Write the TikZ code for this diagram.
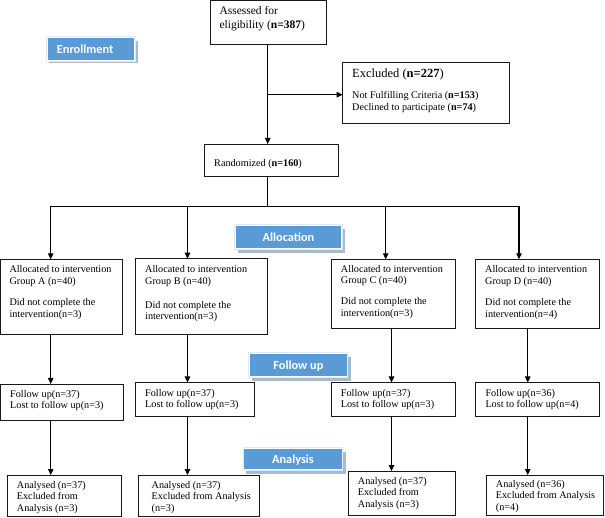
\documentclass[tikz,border=0pt]{standalone}
\usepackage{fontspec}
\setmainfont{Liberation Serif}
\newfontfamily\badgefont{Carlito}
\usetikzlibrary{arrows.meta,calc}
\definecolor{badgeblue}{HTML}{5B9BD5}
\definecolor{badgeshadow}{HTML}{A9BCCF}
\definecolor{badgeframe}{HTML}{E4E9EF}
\newcommand{\tl}[1]{\begin{tabular}[t]{@{}l@{}}#1\end{tabular}}
\newcommand{\mybox}[5]{\node[box, minimum width=#4pt, minimum height=#5pt, anchor=north west] (#1) at (#2,#3) {};}
\newcommand{\mybadge}[7]{%
  \fill[badgeshadow] (#2+1.5,#3+3) rectangle (#6,#7);
  \draw[badgeframe, line width=1pt, fill=white] (#2-1.2,#3-1.2) rectangle (#4+1.2,#5+1.2);
  \node[badge, minimum width=#4pt-#2pt, minimum height=#5pt-#3pt, anchor=north west] (#1) at (#2,#3) {};}
\begin{document}
\begin{tikzpicture}[x=1pt,y=-1pt,
  box/.style={draw=black!90, line width=0.95pt, fill=white, inner sep=0pt, outer sep=0pt},
  txt/.style={anchor=base west, inner sep=0pt, font=\fontsize{10.2}{11.5}\selectfont},
  conn/.style={line width=1.1pt, draw=black},
  arr/.style={conn, -{Triangle[length=6pt,width=5.5pt]}},
  badge/.style={fill=badgeblue, draw=none, inner sep=0pt, outer sep=0pt},
  badgetxt/.style={inner sep=0pt, text=white, font=\badgefont\bfseries\fontsize{12.3}{14}\selectfont},
]
\useasboundingbox[fill=white] (0,0) rectangle (605,518);

% badges
\mybadge{enroll}{47.7}{37.7}{134.3}{60.3}{138}{63.5}
\mybadge{alloc}{236}{226}{341}{248.3}{345}{252.7}
\mybadge{follow}{250}{354}{346.7}{376.5}{350.5}{381}
\mybadge{anal}{244.3}{449}{341.7}{469.3}{345.5}{473.5}
\node[badgetxt, anchor=base west] (tenroll) at (56.7,53.5) {Enrollment};
\node[badgetxt, anchor=base] (talloc) at (288.5,241.2) {Allocation};
\node[badgetxt, anchor=base] (tfollow) at (298.4,369.3) {Follow up};
\node[badgetxt, anchor=base] (tanal) at (293,463.2) {Analysis};

% boxes
\mybox{assess}{210}{0.7}{116}{43.3}
\mybox{excl}{342.7}{62.3}{166.6}{61}
\mybox{rand}{204.7}{144}{133.3}{32}
\mybox{aA}{0.7}{259.3}{122}{75}
\mybox{aB}{135.3}{258.7}{132.4}{75.3}
\mybox{aC}{331.7}{259.3}{123.3}{68.7}
\mybox{aD}{475}{259.3}{124.3}{68.7}
\mybox{fA}{0.7}{384}{122.6}{36}
\mybox{fB}{135.3}{382.5}{119}{34.2}
\mybox{fC}{331.7}{382.5}{123.3}{34.2}
\mybox{fD}{475}{382.5}{124.3}{34.2}
\mybox{nA}{7.3}{475}{114.4}{41.7}
\mybox{nB}{138.7}{475}{120.6}{41.5}
\mybox{nC}{348.3}{471}{106.7}{44.7}
\mybox{nD}{486}{475}{117.3}{40.7}

% texts
\node[txt, font=\fontsize{11.5}{13.6}\selectfont] (tassess) at (219.3,14.7) {\tl{Assessed for\\eligibility (\textbf{n=387})}};
\node[txt, font=\fontsize{12.5}{14}\selectfont] (texcl) at (352,77.7) {Excluded (\textbf{n=227})};
\node[txt, font=\fontsize{10.2}{11.6}\selectfont] (texcl2) at (352,98.7) {\tl{Not Fulfilling Criteria (\textbf{n=153})\\Declined to participate (\textbf{n=74})}};
\node[txt] (trand) at (214,166.7) {Randomized (\textbf{n=160})};
\node[txt] (taA) at (9.3,272.7) {\tl{Allocated to intervention\\Group A (n=40)\\[10.3pt]Did not complete the\\intervention(n=3)}};
\node[txt] (taB) at (145,272.7) {\tl{Allocated to intervention\\Group B (n=40)\\[12.5pt]Did not complete the\\intervention(n=3)}};
\node[txt] (taC) at (340.7,272.3) {\tl{Allocated to intervention\\Group C (n=40)\\[9.5pt]Did not complete the\\intervention(n=3)}};
\node[txt] (taD) at (485,272.7) {\tl{Allocated to intervention\\Group D (n=40)\\[10.3pt]Did not complete the\\intervention(n=4)}};
\node[txt] (tfA) at (10,397.5) {\tl{Follow up(n=37)\\Lost to follow up(n=3)}};
\node[txt] (tfB) at (145,396) {\tl{Follow up(n=37)\\Lost to follow up(n=3)}};
\node[txt] (tfC) at (340.7,396) {\tl{Follow up(n=37)\\Lost to follow up(n=3)}};
\node[txt] (tfD) at (485.3,396) {\tl{Follow up(n=36)\\Lost to follow up(n=4)}};
\node[txt] (tnA) at (16.7,488.3) {\tl{Analysed (n=37)\\Excluded from\\Analysis (n=3)}};
\node[txt] (tnB) at (151.5,488.3) {\tl{Analysed (n=37)\\Excluded from Analysis\\(n=3)}};
\node[txt] (tnC) at (357.7,484) {\tl{Analysed (n=37)\\Excluded from\\Analysis (n=3)}};
\node[txt] (tnD) at (495.7,487) {\tl{Analysed (n=36)\\Excluded from Analysis\\(n=4)}};

% connector coordinates
\coordinate (split) at (267.7,206.7);
\coordinate (br) at (267.7,94.7);
\coordinate (xA) at (50.7,0);
\coordinate (xB) at (187.5,0);
\coordinate (xC) at (385.7,0);
\coordinate (xCb) at (391.5,0);
\coordinate (xD) at (519,0);
\coordinate (xDb) at (527.7,0);

\draw[arr] (assess.south -| split) -- (rand.north -| split);
\draw[arr] (br) -- (br -| excl.west);
\draw[conn] (rand.south -| split) -- (split);
\draw[conn, line cap=rect] (split -| xA) -- (split -| xD);
\draw[arr] (split -| xA) -- (aA.north -| xA);
\draw[arr] (split -| xB) -- (aB.north -| xB);
\draw[arr] (split -| xC) -- (aC.north -| xC);
\draw[arr] (split -| xD) -- (aD.north -| xD);

\draw[arr] (aA.south -| xA) -- (fA.north -| xA);
\draw[arr] (aB.south -| xB) -- (fB.north -| xB);
\draw[arr] (aC.south -| xCb) -- (fC.north -| xCb);
\draw[arr] (aD.south -| xDb) -- (fD.north -| xDb);

\draw[arr] (fA.south -| xA) -- (nA.north -| xA);
\draw[arr] (fB.south -| xB) -- (nB.north -| xB);
\draw[arr] (fC.south -| xCb) -- (nC.north -| xCb);
\draw[arr] (fD.south -| xDb) -- (nD.north -| xDb);
\end{tikzpicture}
\end{document}
